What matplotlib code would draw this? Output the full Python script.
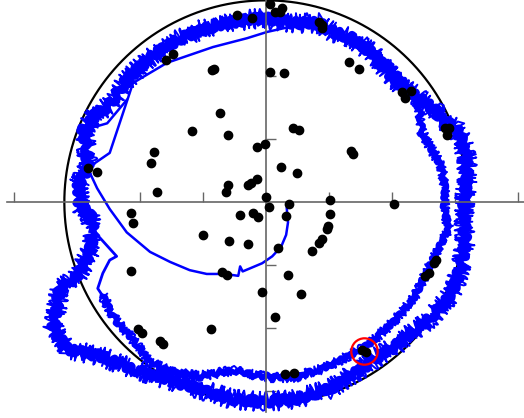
import matplotlib
matplotlib.use("Agg")
import matplotlib.pyplot as plt
import numpy as np

# landmarks
lm_x = [-0.46, -0.22, 0.06, 0.14, 0.22, 0.25, 0.84, 0.89, 0.89, -1.59, -1.48, -0.86, -0.83,
        0.06, 0.29, 1.32, 1.48, 2.16, 2.21, 2.30, 2.84, 2.87, 2.90, -0.73, -1.17, -0.60,
        -1.78, -1.83, 0.43, 0.52, -0.02, -0.14, 1.35, 1.38, 0.24, 0.49, -2.83, -2.68,
        -1.73, -0.60, -0.63, -0.29, -0.24, -0.14, 0.00, 0.05, 0.37, 0.32, 1.02, 2.03,
        -0.41, -0.21, -0.13, -2.14, -2.11, -1.00, -0.59, -0.29, 0.19, 1.02, 0.98, 0.97,
        0.89, 0.84, 0.73, -2.14, -0.70, -0.62, 0.35, -0.06, 0.56, 0.14, 2.52, 2.59, 2.67,
        2.70, -2.03, -1.97, -1.68, -1.63, -0.87, 1.52, 1.59, 0.30, 0.44]
lm_y = [2.97, 2.92, 3.14, 3.02, 3.02, 3.08, 2.86, 2.81, 2.76, 2.25, 2.35, 2.10, 2.11,
        2.06, 2.05, 2.22, 2.11, 1.75, 1.65, 1.76, 1.17, 1.06, 1.17, 1.41, 1.13, 1.06,
        0.79, 0.62, 1.17, 1.14, 0.92, 0.87, 0.81, 0.76, 0.56, 0.46, 0.54, 0.48,
        0.16, 0.27, 0.16, 0.27, 0.30, 0.37, 0.08, -0.08, -0.03, -0.22, 0.03, -0.03,
        -0.21, -0.17, -0.24, -0.17, -0.33, -0.52, -0.62, -0.67, -0.73, -0.19, -0.38, -0.43,
        -0.59, -0.65, -0.78, -1.10, -1.11, -1.16, -1.16, -1.43, -1.46, -1.83, -1.17, -1.13, -0.97,
        -0.92, -2.02, -2.08, -2.21, -2.25, -2.02, -2.35, -2.38, -2.73, -2.71]

# start of the path: spiral out from the centre, up the left side to the top
start_x = [0.33, 0.35, 0.32, 0.24, 0.10, -0.06, -0.25, -0.37, -0.41, -0.44, -0.65, -0.94,
           -1.21, -1.52, -1.84, -2.21, -2.48, -2.68, -2.83, -2.48, -2.11, -1.57, -0.84,
           -0.30, 0.02, 0.38, 0.78]
start_y = [-0.10, -0.32, -0.52, -0.71, -0.86, -0.97, -1.05, -1.10, -1.02, -1.17, -1.14, -1.14,
           -1.08, -0.95, -0.79, -0.48, -0.11, 0.22, 0.54, 0.78, 1.89, 2.21, 2.46,
           2.60, 2.70, 2.78, 2.83]

# first lap
lap1_x = [0.78, 1.00, 1.32, 1.79, 2.05, 2.32, 2.43, 2.48, 2.63, 2.79, 2.84, 2.83, 2.90,
          2.75, 2.63, 2.52, 2.37, 2.16, 1.95, 1.68, 1.52, 1.21, 0.89, 0.68, 0.54, 0.02,
          -0.52, -1.05, -1.48, -1.84, -2.00, -2.21, -2.37, -2.48, -2.59]
lap1_y = [2.83, 2.73, 2.57, 2.30, 2.05, 1.78, 1.46, 1.10, 0.83, 0.56, 0.24, -0.08, -0.43,
          -0.70, -0.95, -1.17, -1.49, -1.75, -1.97, -2.22, -2.33, -2.49, -2.65, -2.70, -2.78, -2.78,
          -2.67, -2.76, -2.70, -2.54, -2.33, -2.06, -1.90, -1.70, -1.49]

# thin crossings on the left
cross_x = [-2.59, -2.67, -2.59, -2.48, -2.37, -2.75]
cross_y = [-1.49, -1.37, -1.13, -0.92, -0.86, -0.44]
zig_x = [-2.90, -2.52, -2.21]
zig_y = [1.14, 1.25, 1.62]

# second lap, noisy
lap2_x = [-2.75, -2.79, -2.95, -2.98, -2.83, -2.84, -2.90, -2.71, -2.48, -2.21, -1.84, -1.41,
          -1.05, -0.52, -0.06, 0.46, 0.84, 1.05, 1.32, 1.68, 1.95, 2.16, 2.32, 2.68, 2.79,
          3.00, 3.11, 3.19, 3.19, 3.14, 3.16, 3.11, 3.00, 2.84, 2.59, 2.32, 2.05, 1.79, 1.52,
          1.25, 1.00, 0.46, -0.06, -0.52, -1.05, -1.57, -2.11, -2.63, -3.16, -3.38, -3.27,
          -3.00, -2.79, -2.76]
lap2_y = [-0.44, -0.21, -0.05, 0.27, 0.54, 0.83, 1.14, 1.38, 1.54, 1.94, 2.30, 2.57,
          2.73, 2.86, 2.92, 2.84, 2.84, 2.70, 2.62, 2.37, 2.05, 1.83, 1.73, 1.46, 1.30,
          1.19, 0.98, 0.67, 0.35, -0.11, -0.63, -0.95, -1.33, -1.59, -1.86, -2.06, -2.29, -2.44, -2.65,
          -2.81, -2.97, -3.13, -3.17, -3.13, -2.97, -2.81, -2.65, -2.44, -2.33, -2.02, -1.38,
          -1.19, -0.79, -0.52]

robot_x, robot_y = 1.55, -2.37
world_radius = 3.2

fig = plt.figure(figsize=(5.24, 4.18), dpi=100)
ax = fig.add_axes([7 / 524, 6 / 418, 517 / 524, 412 / 418])

t = np.linspace(0, 2 * np.pi, 400)
ax.plot(world_radius * np.cos(t), world_radius * np.sin(t), color='black', lw=1.6, zorder=1)

blue = '#0000ff'
ax.plot(start_x, start_y, color=blue, lw=1.8, zorder=2)
ax.plot(cross_x, cross_y, color=blue, lw=2, zorder=2)
ax.plot(zig_x, zig_y, color=blue, lw=1.8, zorder=2)

# noisy laps: solid core plus thin jittery strokes on top
for xs, ys, core, jit in ((lap1_x, lap1_y, 4.0, 5.0), (lap2_x, lap2_y, 5.5, 10.0)):
    c, = ax.plot(xs, ys, color=blue, lw=core, zorder=2, solid_joinstyle='round')
    c.set_sketch_params(scale=jit * 0.35, length=12, randomness=4)
    s, = ax.plot(xs, ys, color=blue, lw=1.4, zorder=2)
    s.set_sketch_params(scale=jit, length=4, randomness=6)

ax.plot(lm_x, lm_y, 'o', color='black', ms=6, zorder=3)
ax.plot(robot_x, robot_y, 'o', mfc='none', mec='red', ms=19, mew=1.6, zorder=4)

ax.set_xlim(-4.11, 4.095)
ax.set_ylim(-3.33, 3.206)
ax.spines['left'].set_position('zero')
ax.spines['bottom'].set_position('zero')
ax.spines['top'].set_visible(False)
ax.spines['right'].set_visible(False)
for s in ('left', 'bottom'):
    ax.spines[s].set_color('#666666')
    ax.spines[s].set_linewidth(1.2)
ax.set_xticks([-4, -3, -2, -1, 1, 2, 3, 4])
ax.set_yticks([-3, -2, -1, 1, 2, 3])
ax.tick_params(direction='in', length=7.5, width=1, color='#666666',
               labelbottom=False, labelleft=False)
ax.patch.set_alpha(0)

fig.savefig('out.png', dpi=100)
